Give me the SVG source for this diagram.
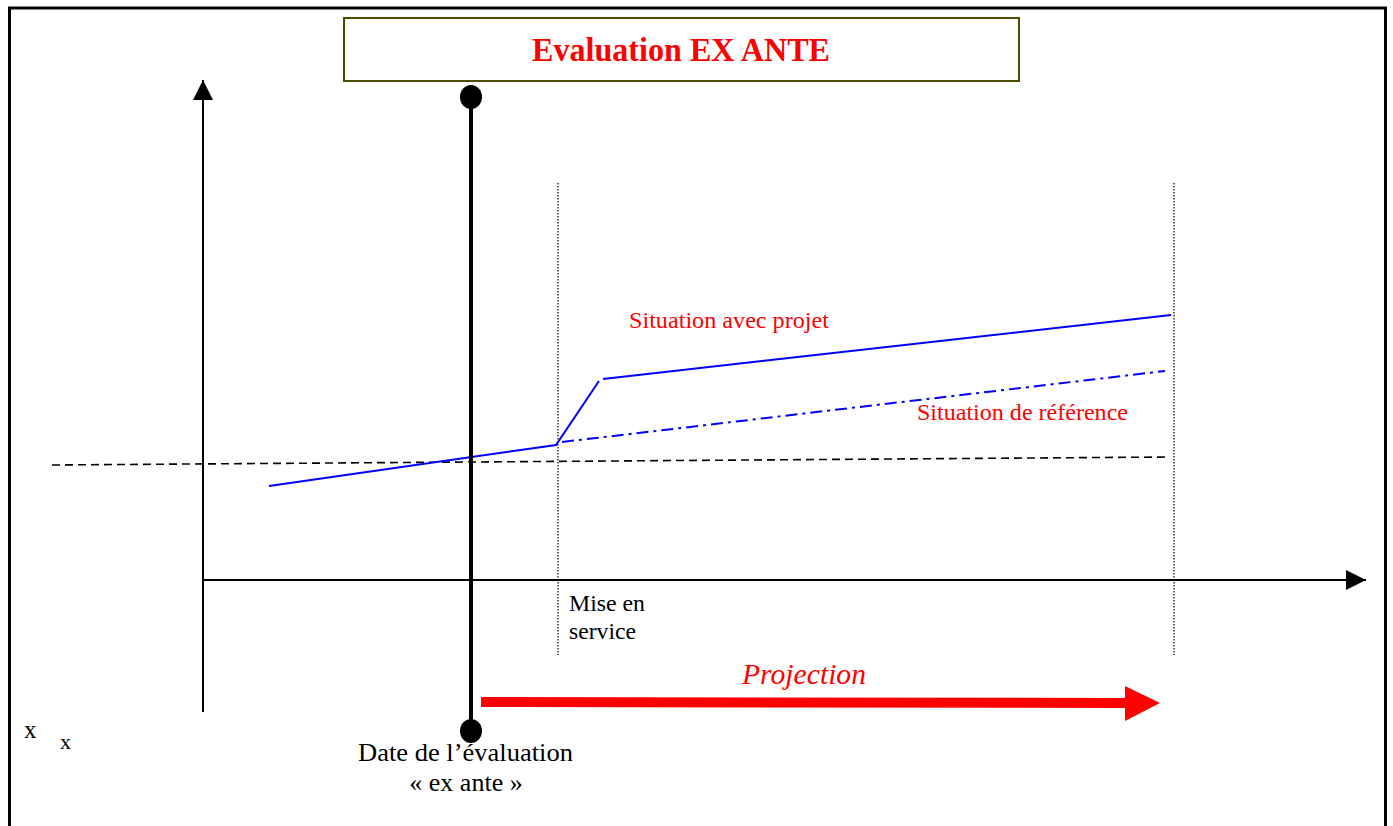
<svg xmlns="http://www.w3.org/2000/svg" width="1393" height="826" viewBox="0 0 1393 826">
<style>
.serif{font-family:"Liberation Serif","Times New Roman",serif}
.red{fill:#ff0000}
.blk{fill:#000}
</style>
<defs>
<marker id="ah" markerUnits="userSpaceOnUse" markerWidth="22" markerHeight="22" refX="20" refY="10" orient="auto">
<path d="M0,0 L20,10 L0,20 Z" fill="#000"/>
</marker>
</defs>
<rect x="0" y="0" width="1393" height="826" fill="#fff"/>
<g id="frame">
<rect x="9.5" y="8" width="1376" height="830" fill="none" stroke="#000" stroke-width="3"/>
</g>
<g id="title">
<rect x="344" y="18" width="675" height="63" fill="#fff" stroke="#4d4d00" stroke-width="2"/>
<text x="532" y="61" textLength="298" lengthAdjust="spacingAndGlyphs" class="serif red" font-size="33" font-weight="bold">Evaluation EX ANTE</text>
</g>
<g id="connectors">
<line x1="203" y1="712" x2="203" y2="80" stroke="#000" stroke-width="2" marker-end="url(#ah)"/>
<line x1="203" y1="580" x2="1366" y2="580" stroke="#000" stroke-width="2" marker-end="url(#ah)"/>
<line x1="558" y1="183" x2="558" y2="655" stroke="#000" stroke-width="1.2" stroke-dasharray="1.5,1.5"/>
<line x1="1174" y1="183" x2="1174" y2="655" stroke="#000" stroke-width="1.2" stroke-dasharray="1.5,1.5"/>
<line x1="52" y1="465" x2="1170" y2="457" stroke="#000" stroke-width="1.6" stroke-dasharray="8,5"/>
<polyline points="269,486 556,445 599,381" fill="none" stroke="#0000ff" stroke-width="2"/>
<line x1="603" y1="379" x2="1171" y2="315" stroke="#0000ff" stroke-width="2"/>
<line x1="562" y1="442" x2="1165" y2="371" stroke="#0000ff" stroke-width="2" stroke-dasharray="12,5,3,5"/>
<line x1="471" y1="97" x2="471" y2="731" stroke="#000" stroke-width="4"/>
<path d="M481,697 L1125,698 L1125,686 L1160,703 L1125,721 L1125,708 L481,707 Z" fill="#ff0000"/>
</g>
<g id="markers">
<ellipse cx="471" cy="97" rx="11" ry="12" fill="#000"/>
<ellipse cx="471" cy="731" rx="11" ry="12" fill="#000"/>
</g>
<g id="labels">
<text x="629" y="328" textLength="200" lengthAdjust="spacingAndGlyphs" class="serif red" font-size="23">Situation avec projet</text>
<text x="917" y="420" textLength="211" lengthAdjust="spacingAndGlyphs" class="serif red" font-size="23">Situation de référence</text>
<text x="569" y="611" textLength="76" lengthAdjust="spacingAndGlyphs" class="serif blk" font-size="23">Mise en</text>
<text x="569" y="639" textLength="67" lengthAdjust="spacingAndGlyphs" class="serif blk" font-size="23">service</text>
<text x="742" y="684" textLength="124" lengthAdjust="spacingAndGlyphs" class="serif red" font-size="29" font-style="italic">Projection</text>
<text x="358" y="761" textLength="215" lengthAdjust="spacingAndGlyphs" class="serif blk" font-size="26">Date de l’évaluation</text>
<text x="466" y="791" text-anchor="middle" class="serif blk" font-size="26">« ex ante »</text>
<text x="24" y="738" class="serif blk" font-size="25">x</text>
<text x="60" y="749" class="serif blk" font-size="22">x</text>
</g>
</svg>
